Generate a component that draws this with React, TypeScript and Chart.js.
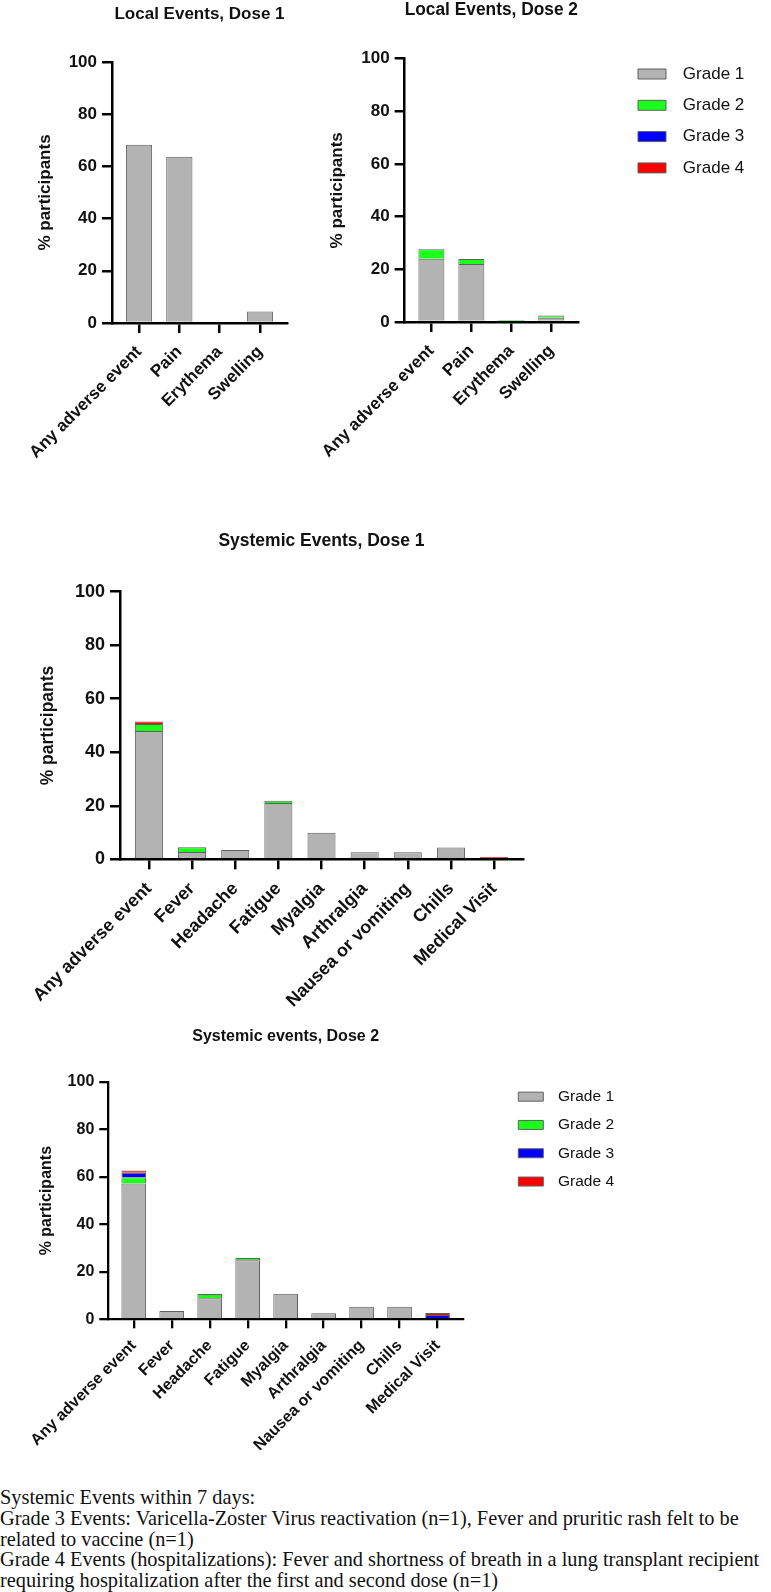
import React, { useEffect, useLayoutEffect, useRef, useState } from 'react';
import { Chart, registerables } from 'chart.js';

Chart.register(...registerables);

// ---------- data ----------
const localCategories = ['Any adverse event', 'Pain', 'Erythema', 'Swelling'];
const systemicCategories = [
  'Any adverse event', 'Fever', 'Headache', 'Fatigue', 'Myalgia',
  'Arthralgia', 'Nausea or vomiting', 'Chills', 'Medical Visit',
];
const yTickValues = [0, 20, 40, 60, 80, 100];
const gradeLabels = ['Grade 1', 'Grade 2', 'Grade 3', 'Grade 4'];
const gradeColors = ['#b3b3b3', '#1aff1a', '#0000ff', '#ff0000'];

const localDose1Grade1 = [68.3, 63.7, 0, 4.4];
const localDose1Grade2 = [0, 0, 0, 0];
const localDose1Grade3 = [0, 0, 0, 0];
const localDose1Grade4 = [0, 0, 0, 0];

const localDose2Grade1 = [24.0, 22.0, 0, 1.6];
const localDose2Grade2 = [3.6, 1.9, 0.8, 0.9];
const localDose2Grade3 = [0, 0, 0, 0];
const localDose2Grade4 = [0, 0, 0, 0];

const systemicDose1Grade1 = [47.9, 2.7, 3.5, 21.0, 9.9, 2.6, 2.6, 4.4, 0];
const systemicDose1Grade2 = [2.7, 1.8, 0, 0.9, 0, 0, 0, 0, 0];
const systemicDose1Grade3 = [0, 0, 0, 0, 0, 0, 0, 0, 0];
const systemicDose1Grade4 = [0.9, 0, 0, 0, 0, 0, 0, 0, 0.9];

const systemicDose2Grade1 = [57.2, 3.5, 8.9, 24.9, 10.8, 2.6, 5.3, 5.3, 0];
const systemicDose2Grade2 = [2.7, 0, 1.8, 0.9, 0, 0, 0, 0, 0];
const systemicDose2Grade3 = [1.9, 0, 0, 0, 0, 0, 0, 0, 1.8];
const systemicDose2Grade4 = [0.9, 0, 0, 0, 0, 0, 0, 0, 0.9];

const footnoteLines = [
  'Systemic Events within 7 days:',
  'Grade 3 Events: Varicella-Zoster Virus reactivation (n=1), Fever and pruritic rash felt to be',
  'related to vaccine (n=1)',
  'Grade 4 Events (hospitalizations): Fever and shortness of breath in a lung transplant recipient',
  'requiring hospitalization after the first and second dose (n=1)',
];

// ---------- layout specs ----------
type LegendSpec = { left: number; top: number; right: number; font: number; boxW: number; boxH: number; gap: number };
type Spec = {
  title: string;
  categories: string[];
  series: number[][];
  x: number; y: number; w: number; h: number;
  tickFont: number; titleFont: number; yTitleFont: number;
  padTop: number; padRight: number; titleGap: number;
  yAxisW: number; yTitlePad: number; xAxisH: number;
  tickLen: number; xPad: number; line: number;
  legend?: LegendSpec;
};

const FONT = '"Liberation Sans", Arial, Helvetica, sans-serif';
const INK = '#111111';

const legendPlace = {
  id: 'legendPlace',
  afterLayout(chart: any, _args: any, opts: any) {
    const l = chart.legend;
    if (!l || !opts || opts.left == null) return;
    const h = l.height;
    l.left = opts.left;
    l.right = opts.right;
    l.width = opts.right - opts.left;
    l.top = opts.top;
    l.bottom = opts.top + h;
  },
};

function buildConfig(s: Spec): any {
  const n = s.categories.length;
  const datasets = s.series.map((vals, gi) => ({
    label: gradeLabels[gi],
    data: vals.map((v, i) => ({ x: i, y: v })),
    backgroundColor: gradeColors[gi],
    borderColor: '#5f5f5f',
    borderWidth: 1,
    categoryPercentage: 1,
    barPercentage: 0.65,
  }));
  return {
    type: 'bar',
    data: { datasets },
    plugins: [legendPlace],
    options: {
      responsive: false,
      maintainAspectRatio: false,
      animation: false,
      devicePixelRatio: 1,
      layout: { padding: { top: s.padTop, right: s.padRight, bottom: 0, left: 0 } },
      plugins: {
        title: {
          display: true,
          text: s.title,
          fullSize: false,
          color: INK,
          font: { family: FONT, size: s.titleFont, weight: 'bold' },
          padding: { top: 0, bottom: s.titleGap },
        },
        legend: s.legend
          ? {
              display: true,
              position: 'chartArea',
              align: 'start',
              labels: {
                color: INK,
                font: { family: FONT, size: s.legend.font },
                boxWidth: s.legend.boxW,
                boxHeight: s.legend.boxH,
                padding: s.legend.gap,
                textAlign: 'right',
              },
            }
          : { display: false },
        legendPlace: s.legend ? { left: s.legend.left, top: s.legend.top, right: s.legend.right } : {},
        tooltip: { enabled: false },
      },
      scales: {
        x: {
          type: 'linear',
          stacked: true,
          offset: false,
          bounds: 'data',
          min: -0.67,
          max: n - 1 + 0.67,
          afterBuildTicks: (sc: any) => {
            sc.ticks = s.categories.map((_, i) => ({ value: i }));
          },
          afterFit: (sc: any) => {
            sc.height = s.xAxisH;
          },
          grid: {
            display: true,
            drawOnChartArea: false,
            drawTicks: true,
            offset: false,
            tickLength: s.tickLen,
            color: '#000',
            lineWidth: s.line,
          },
          border: { display: true, color: '#000', width: s.line },
          ticks: {
            autoSkip: false,
            maxRotation: 45,
            minRotation: 45,
            padding: s.xPad,
            color: INK,
            font: { family: FONT, size: s.tickFont, weight: 'bold' },
            callback: (v: any) => s.categories[Math.round(Number(v))] ?? '',
          },
        },
        y: {
          type: 'linear',
          stacked: true,
          min: 0,
          max: 100,
          afterBuildTicks: (sc: any) => {
            sc.ticks = yTickValues.map((v) => ({ value: v }));
          },
          afterFit: (sc: any) => {
            sc.width = s.yAxisW;
          },
          grid: {
            display: true,
            drawOnChartArea: false,
            drawTicks: true,
            tickLength: s.tickLen,
            color: '#000',
            lineWidth: s.line,
          },
          border: { display: true, color: '#000', width: s.line },
          ticks: {
            padding: 5,
            color: INK,
            font: { family: FONT, size: s.tickFont, weight: 'bold' },
          },
          title: {
            display: true,
            text: '% participants',
            color: INK,
            font: { family: FONT, size: s.yTitleFont, weight: 'bold' },
            padding: { top: s.yTitlePad, bottom: 0 },
          },
        },
      },
    },
  };
}

const specs: Spec[] = [
  {
    title: 'Local Events, Dose 1',
    categories: localCategories,
    series: [localDose1Grade1, localDose1Grade2, localDose1Grade3, localDose1Grade4],
    x: 0, y: 0, w: 300, h: 470,
    tickFont: 17, titleFont: 17, yTitleFont: 17,
    padTop: 4, padRight: 13, titleGap: 37.6,
    yAxisW: 112, yTitlePad: 34.8, xAxisH: 147,
    tickLen: 10, xPad: 9, line: 2.5,
  },
  {
    title: 'Local Events, Dose 2',
    categories: localCategories,
    series: [localDose2Grade1, localDose2Grade2, localDose2Grade3, localDose2Grade4],
    x: 300, y: 0, w: 471, h: 470,
    tickFont: 17, titleFont: 17.5, yTitleFont: 17,
    padTop: 0, padRight: 193, titleGap: 37.7,
    yAxisW: 99, yTitlePad: 21.5, xAxisH: 148,
    tickLen: 10, xPad: 9, line: 2.5,
    legend: { left: 323.7, top: 51.2, right: 444.3, font: 17, boxW: 28, boxH: 10, gap: 14.3 },
  },
  {
    title: 'Systemic Events, Dose 1',
    categories: systemicCategories,
    series: [systemicDose1Grade1, systemicDose1Grade2, systemicDose1Grade3, systemicDose1Grade4],
    x: 0, y: 510, w: 560, h: 500,
    tickFont: 18, titleFont: 17.5, yTitleFont: 17.5,
    padTop: 20.2, padRight: 37, titleGap: 40.5,
    yAxisW: 120, yTitlePad: 38.1, xAxisH: 150.7,
    tickLen: 10, xPad: 9, line: 2.5,
  },
  {
    title: 'Systemic events, Dose 2',
    categories: systemicCategories,
    series: [systemicDose2Grade1, systemicDose2Grade2, systemicDose2Grade3, systemicDose2Grade4],
    x: 0, y: 1010, w: 771, h: 440,
    tickFont: 16, titleFont: 16, yTitleFont: 16,
    padTop: 17.1, padRight: 308, titleGap: 35.7,
    yAxisW: 108.3, yTitlePad: 37.1, xAxisH: 130.7,
    tickLen: 9, xPad: 8, line: 2.3,
    legend: { left: 505.5, top: 66.1, right: 614, font: 15.5, boxW: 25, boxH: 9, gap: 12.8 },
  },
];

function BarPanel({ spec }: { spec: Spec }) {
  const ref = useRef<HTMLCanvasElement>(null);
  useEffect(() => {
    if (!ref.current) return;
    const chart = new Chart(ref.current, buildConfig(spec));
    return () => chart.destroy();
  }, [spec]);
  return (
    <div style={{ position: 'absolute', left: spec.x, top: spec.y, width: spec.w, height: spec.h }}>
      <canvas ref={ref} width={spec.w} height={spec.h} style={{ display: 'block', width: spec.w, height: spec.h }} />
    </div>
  );
}

// the longest footnote line spans nearly the full page width in the reference
const FOOT_TARGET_WIDTH = 760;
const FOOT_BASE_SIZE = 20;
const FOOT_LINE = 20.8;

function Footnote() {
  const ref = useRef<HTMLDivElement>(null);
  const [size, setSize] = useState(FOOT_BASE_SIZE);
  useLayoutEffect(() => {
    const el = ref.current;
    if (!el) return;
    let maxW = 0;
    el.querySelectorAll('span').forEach((sp) => {
      maxW = Math.max(maxW, (sp as HTMLElement).offsetWidth);
    });
    if (maxW > 0) setSize(FOOT_BASE_SIZE * FOOT_TARGET_WIDTH / maxW);
  }, []);
  return (
    <div
      ref={ref}
      style={{
        position: 'absolute',
        left: 0,
        top: 1487,
        width: 1200,
        fontFamily: '"Liberation Serif", "Times New Roman", serif',
        fontSize: size,
        lineHeight: `${FOOT_LINE}px`,
        color: '#111',
      }}
    >
      {footnoteLines.map((t, i) => (
        <div key={i} style={{ height: FOOT_LINE }}>
          <span style={{ display: 'inline-block', whiteSpace: 'nowrap' }}>{t}</span>
        </div>
      ))}
    </div>
  );
}

export default function App() {
  return (
    <div style={{ position: 'absolute', left: 0, top: 0, width: 771, height: 1592, background: '#fff', overflow: 'hidden' }}>
      {specs.map((s, i) => (
        <BarPanel key={i} spec={s} />
      ))}
      <Footnote />
    </div>
  );
}
